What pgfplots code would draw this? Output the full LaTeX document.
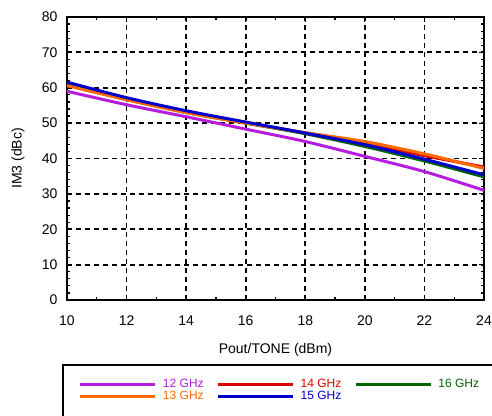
\documentclass[border=0pt]{standalone}
\usepackage{fontspec}
\setmainfont{Liberation Sans}
\usepackage{pgfplots}
\pgfplotsset{compat=1.18}
\definecolor{cpurple}{RGB}{180,30,220}
\definecolor{corange}{RGB}{255,106,0}
\definecolor{cred}{RGB}{221,0,0}
\definecolor{cgreen}{RGB}{0,100,0}
\definecolor{cblue}{RGB}{0,0,204}
\begin{document}
\begin{tikzpicture}[font=\fontsize{14}{16}\selectfont]
\begin{axis}[
 scale only axis, width=417pt, height=283pt,
 xmin=10,xmax=24,ymin=0,ymax=80,
 xtick={10,12,...,24}, ytick={0,10,...,80},
 minor x tick num=1, minor y tick num=4,
 tick align=inside, major tick length=5pt, minor tick length=3pt,
 grid=major, major grid style={black, line width=1.8pt, dash pattern=on 5pt off 4pt},
 axis line style={line width=2.5pt},
 tick style={black, line width=1.2pt},
 /pgf/number format/assume math mode=true,
 xticklabel style={yshift=-12pt},
 yticklabel style={xshift=-6pt},
 xlabel={Pout/TONE (dBm)}, ylabel={IM3 (dBc)},
 xlabel style={at={(axis description cs:0.5,-0.177)}, anchor=center},
 ylabel style={at={(axis description cs:-0.1175,0.5)}, anchor=center},
 legend columns=3,
 legend style={at={(axis description cs:-0.012,-0.226)}, anchor=north west, draw=black, line width=2pt, inner xsep=16pt, inner ysep=14pt, font=\fontsize{12}{13}\selectfont, nodes={inner sep=0pt, text height=9pt, text depth=3pt}, column sep=6pt, /tikz/every even column/.append style={column sep=13pt}},
 legend image code/.code={\draw[#1] (0pt,0pt) -- (75pt,0pt);},
 every axis plot/.append style={line width=3pt, smooth, no marks},
]
\addplot[cpurple] coordinates {(10,59)(12,55.2)(14,51.8)(16,48.3)(18,44.8)(20,40.6)(22,36.3)(24,31)};
\addlegendentry{\textcolor{cpurple}{12 GHz}}
\addplot[cred] coordinates {(10,61.3)(12,57.0)(14,53.3)(16,50.2)(18,47.2)(20,44.4)(22,40.8)(24,37.6)};
\addlegendentry{\textcolor{cred}{14 GHz}}
\addplot[cgreen] coordinates {(10,60.8)(12,56.7)(14,53.0)(16,50.0)(18,47.0)(20,43.4)(22,39.3)(24,34.8)};
\addlegendentry{\textcolor{cgreen}{16 GHz}}
\addplot[corange] coordinates {(10,60.6)(12,56.6)(14,53.0)(16,50.0)(18,47.3)(20,44.8)(22,41.3)(24,37.2)};
\addlegendentry{\textcolor{corange}{13 GHz}}
\addplot[cblue] coordinates {(10,61.6)(12,57.2)(14,53.5)(16,50.3)(18,47.2)(20,43.9)(22,39.8)(24,35.4)};
\addlegendentry{\textcolor{cblue}{15 GHz}}
\end{axis}
\pgfresetboundingbox
\useasboundingbox (-67pt,-115pt) rectangle (425pt,300pt);
\end{tikzpicture}
\end{document}
